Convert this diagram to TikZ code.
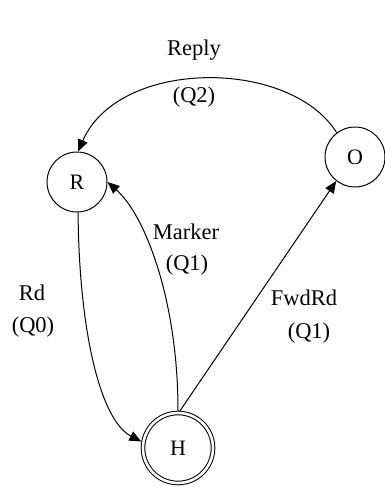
\documentclass[tikz,border=0pt]{standalone}
\usepackage{fontspec}
\setmainfont{Liberation Serif}
\usetikzlibrary{arrows.meta}
\begin{document}
\begin{tikzpicture}[x=1pt,y=-1pt,
  state/.style={draw,circle,line width=1pt,minimum size=60pt,inner sep=0pt,font=\fontsize{22}{24}\selectfont},
  accept/.style={state,double,double distance=2.6pt,minimum size=70pt,outer sep=2.2pt},
  lbl/.style={inner sep=0pt,font=\fontsize{22.5}{24}\selectfont},
  edge/.style={line width=1pt,-{Triangle[length=12pt,width=10pt]}}]
\useasboundingbox (0,0) rectangle (385,487);
\node[state] (R) at (77,182) {R};
\node[state] (O) at (355,157) {O};
\node[accept] (H) at (178,448) {H};
\node[lbl] (reply) at (194,50) {Reply};
\node[lbl] (q2) at (194,97) {(Q2)};
\node[lbl] (marker) at (186,232) {Marker};
\node[lbl] (q1a) at (187,265) {(Q1)};
\node[lbl] (rd) at (32,293) {Rd};
\node[lbl] (q0) at (33,327) {(Q0)};
\node[lbl] (fwd) at (304,298) {FwdRd};
\node[lbl] (q1b) at (309,333) {(Q1)};
\draw[edge] (O.127) .. controls (290,58) and (119,58) .. (R.88);
\draw[edge] (H.north) .. controls (178,300) and (145,215) .. (R.east);
\draw[edge] (R.272) .. controls (79,330) and (100,420) .. (H.170);
\draw[edge] (H.87) -- (O.232);
\end{tikzpicture}
\end{document}
